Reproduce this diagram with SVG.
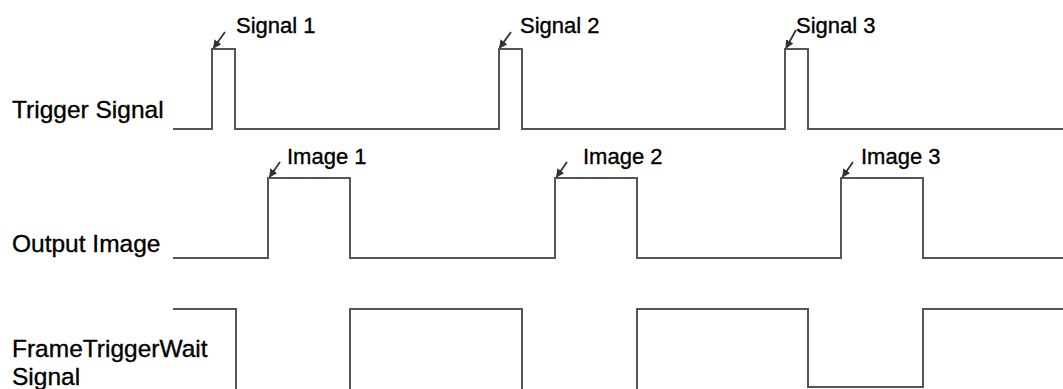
<svg xmlns="http://www.w3.org/2000/svg" width="1063" height="389" viewBox="0 0 1063 389">
<style>
.w{fill:none;stroke:#555;stroke-width:2;stroke-linejoin:miter}
.a{fill:none;stroke:#333;stroke-width:1.8}
.lab{font-family:"Liberation Sans",Arial,sans-serif;font-size:24.5px;fill:#000;stroke:#000;stroke-width:0.35}
.sm{font-family:"Liberation Sans",Arial,sans-serif;font-size:22px;fill:#000;stroke:#000;stroke-width:0.35}
</style>
<defs>
<marker id="ah" viewBox="0 0 10 10" refX="9" refY="5" markerWidth="8.5" markerHeight="8.5" markerUnits="userSpaceOnUse" orient="auto">
<path d="M0,0 L10,5 L0,10 Z" fill="#333"/>
</marker>
</defs>
<rect width="1063" height="389" fill="#fff"/>
<g id="trigger-signal">
<text class="lab" x="12" y="118">Trigger Signal</text>
<path class="w" d="M173,129 H212 V49 H235 V129 H499 V49 H522 V129 H785 V49 H808 V129 H1063"/>
</g>
<g id="output-image">
<text class="lab" x="12" y="252">Output Image</text>
<path class="w" d="M173,258 H268 V178 H350 V258 H555 V178 H637 V258 H841 V178 H923 V258 H1063"/>
</g>
<g id="frame-trigger-wait">
<text class="lab" x="12" y="357">FrameTriggerWait</text>
<text class="lab" x="12" y="385">Signal</text>
<path class="w" d="M173,309 H236 V395 H350 V309 H522 V395 H637 V309 H808 V387 H923 V309 H1063"/>
</g>
<g id="labels">
<text class="sm" x="236" y="33">Signal 1</text>
<text class="sm" x="520" y="33">Signal 2</text>
<text class="sm" x="796" y="33">Signal 3</text>
<text class="sm" x="287" y="164">Image 1</text>
<text class="sm" x="583" y="164">Image 2</text>
<text class="sm" x="861" y="164">Image 3</text>
</g>
<g id="connectors">
<line class="a" x1="225" y1="32" x2="213.5" y2="48" marker-end="url(#ah)"/>
<line class="a" x1="511" y1="32" x2="499.5" y2="48" marker-end="url(#ah)"/>
<line class="a" x1="796" y1="30" x2="786" y2="48" marker-end="url(#ah)"/>
<line class="a" x1="280" y1="162" x2="269.5" y2="177" marker-end="url(#ah)"/>
<line class="a" x1="567" y1="162" x2="556.5" y2="177" marker-end="url(#ah)"/>
<line class="a" x1="853" y1="162" x2="842.5" y2="177" marker-end="url(#ah)"/>
</g>
</svg>
